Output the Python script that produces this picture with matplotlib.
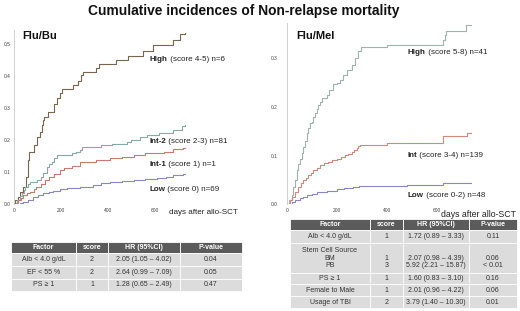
import matplotlib.pyplot as plt
from matplotlib.patches import Rectangle

plt.rcParams["font.family"] = ["Liberation Sans", "DejaVu Sans"]

W, H = 520, 311

# Flu/Bu cumulative incidence (days, value)
bu_high_t = [0, 5, 20, 27, 38, 52, 61, 65, 85, 100, 112, 120, 123, 130, 147, 170, 186, 195, 207,
             251, 275, 285, 293, 350, 361, 434, 488, 552, 594, 676, 708, 730]
bu_high_y = [0, 0.013, 0.024, 0.04, 0.055, 0.086, 0.138, 0.164, 0.185, 0.21, 0.227, 0.247, 0.263,
             0.274, 0.287, 0.315, 0.331, 0.347, 0.36, 0.372, 0.385, 0.404, 0.4125, 0.425, 0.4375,
             0.451, 0.464, 0.48, 0.498, 0.513, 0.531, 0.534]
bu_int2_t = [0, 8, 15, 25, 35, 42, 48, 60, 69, 100, 115, 126, 140, 150, 162, 172, 183, 247, 265,
             282, 289, 370, 420, 480, 500, 538, 566, 620, 679, 715, 730]
bu_int2_y = [0, 0.005, 0.015, 0.025, 0.035, 0.045, 0.055, 0.062, 0.07, 0.075, 0.085, 0.097, 0.117,
             0.125, 0.133, 0.145, 0.154, 0.159, 0.165, 0.17, 0.18, 0.185, 0.19, 0.196, 0.2, 0.211,
             0.217, 0.222, 0.232, 0.245, 0.248]
bu_int1_t = [0, 10, 20, 30, 41, 55, 69, 85, 97, 115, 133, 150, 170, 197, 215, 250, 282, 350, 410,
             460, 510, 560, 640, 679, 720, 730]
bu_int1_y = [0, 0.005, 0.012, 0.02, 0.029, 0.035, 0.04, 0.048, 0.055, 0.065, 0.076, 0.086, 0.095,
             0.107, 0.1125, 0.12, 0.133, 0.138, 0.144, 0.149, 0.154, 0.159, 0.165, 0.172, 0.175, 0.175]
bu_low_t = [0, 25, 41, 60, 84, 105, 126, 150, 169, 195, 225, 280, 339, 370, 410, 460, 510, 560,
            608, 650, 679, 720, 730]
bu_low_y = [0, 0.004, 0.008, 0.015, 0.024, 0.029, 0.034, 0.039, 0.043, 0.047, 0.05, 0.055, 0.06,
            0.066, 0.071, 0.074, 0.076, 0.079, 0.081, 0.086, 0.091, 0.095, 0.095]

# Flu/Mel cumulative incidence
mel_high_t = [0, 10, 20, 27, 33, 40, 47, 53, 60, 67, 73, 80, 87, 93, 100, 107, 113, 120, 127, 133,
              140, 160, 170, 187, 200, 213, 227, 243, 260, 273, 287, 296, 403, 627, 632, 637, 717, 736]
mel_high_y = [0, 0.009, 0.02, 0.036, 0.05, 0.07, 0.082, 0.094, 0.106, 0.118, 0.13, 0.146, 0.156,
              0.166, 0.17, 0.18, 0.187, 0.196, 0.204, 0.21, 0.218, 0.224, 0.235, 0.246, 0.25, 0.255,
              0.265, 0.276, 0.286, 0.3, 0.314, 0.322, 0.327, 0.337, 0.347, 0.356, 0.368, 0.368]
mel_int_t = [0, 12, 20, 33, 47, 57, 67, 77, 87, 97, 107, 120, 133, 150, 167, 183, 200, 217, 233,
             247, 260, 270, 280, 287, 293, 400, 625, 720, 736]
mel_int_y = [0, 0.009, 0.015, 0.026, 0.036, 0.043, 0.05, 0.055, 0.06, 0.065, 0.07, 0.075, 0.081,
             0.084, 0.087, 0.09, 0.094, 0.097, 0.101, 0.104, 0.108, 0.111, 0.115, 0.119, 0.122,
             0.1265, 0.14, 0.146, 0.146]
mel_low_t = [0, 20, 35, 53, 67, 80, 100, 120, 160, 200, 230, 267, 290, 320, 480, 627, 700, 736]
mel_low_y = [0, 0.005, 0.008, 0.012, 0.015, 0.019, 0.022, 0.026, 0.028, 0.031, 0.033, 0.035,
             0.037, 0.038, 0.04, 0.043, 0.044, 0.044]

# tables
bu_header = ["Factor", "score", "HR (95%CI)", "P-value"]
bu_rows = [["Alb < 4.0 g/dL", "2", "2.05 (1.05 – 4.02)", "0.04"],
           ["EF < 55 %", "2", "2.64 (0.99 – 7.09)", "0.05"],
           ["PS ≥ 1", "1", "1.28 (0.65 – 2.49)", "0.47"]]
mel_header = ["Factor", "score", "HR (95%CI)", "P-value"]
mel_rows = [["Alb < 4.0 g/dL", "1", "1.72 (0.89 – 3.33)", "0.11"],
            ["Stem Cell Source\nBM\nPB", "\n1\n3", "\n2.07 (0.98 – 4.39)\n5.92 (2.21 – 15.87)",
             "\n0.06\n< 0.01"],
            ["PS ≥ 1", "1", "1.60 (0.83 – 3.10)", "0.16"],
            ["Female to Male", "1", "2.01 (0.96 – 4.22)", "0.06"],
            ["Usage of TBI", "2", "3.79 (1.40 – 10.30)", "0.01"]]

c_high_bu = "#76664c"
c_high_mel = "#9fb3aa"
c_int2 = "#86aaa5"
c_int1 = "#c47c6e"
c_int = "#cf8a7c"
c_low = "#8787c2"

fig = plt.figure(figsize=(W / 100, H / 100), dpi=100)


def style_axes(ax, yticks, ylabel_pad):
    for s in ["top", "right", "bottom"]:
        ax.spines[s].set_visible(False)
    ax.spines["left"].set_color("#c8c8c8")
    ax.spines["left"].set_linewidth(0.6)
    ax.set_xticks([0, 200, 400, 600])
    ax.set_yticks(yticks)
    ax.tick_params(axis="x", length=0, pad=2.5, labelsize=3.5, labelcolor="#444")
    ax.tick_params(axis="y", length=0, pad=ylabel_pad, labelsize=3.5, labelcolor="#444")
    ax.set_facecolor("none")


def label(ax, x, y, bold, rest, fs=5.8):
    t = ax.text(x, y, bold, fontsize=fs, fontweight="bold", va="center", color="#222")
    ax.annotate(rest, xy=(1, 0), xycoords=t, va="bottom", fontsize=fs, color="#222")


# left panel
ax1 = fig.add_axes([13.7 / W, (H - 204.3) / H, 760 * 0.235 / W, 0.545 * 320 / H])
ax1.step(bu_high_t, bu_high_y, where="post", color=c_high_bu, lw=0.8)
ax1.step(bu_int2_t, bu_int2_y, where="post", color=c_int2, lw=0.8)
ax1.step(bu_int1_t, bu_int1_y, where="post", color=c_int1, lw=0.8)
ax1.step(bu_low_t, bu_low_y, where="post", color=c_low, lw=0.8)
ax1.set_xlim(0, 760)
ax1.set_ylim(0, 0.545)
style_axes(ax1, [0, 0.1, 0.2, 0.3, 0.4, 0.5], 2.5)
ax1.set_yticklabels(["0.0", "0.1", "0.2", "0.3", "0.4", "0.5"])
label(ax1, 580, 0.451, "High", " (score 4-5) n=6")
label(ax1, 576, 0.196, "Int-2", " (score 2-3) n=81")
label(ax1, 576, 0.123, "Int-1", " (score 1) n=1")
label(ax1, 576, 0.047, "Low", " (score 0) n=69")

# right panel
ax2 = fig.add_axes([286.7 / W, (H - 204.3) / H, 190 / W, 0.372 * 487 / H])
ax2.step(mel_high_t, mel_high_y, where="post", color=c_high_mel, lw=0.8)
ax2.step(mel_int_t, mel_int_y, where="post", color=c_int, lw=0.8)
ax2.step(mel_low_t, mel_low_y, where="post", color=c_low, lw=0.8)
ax2.set_xlim(0, 760)
ax2.set_ylim(0, 0.372)
style_axes(ax2, [0, 0.1, 0.2, 0.3], 6.5)
ax2.set_yticklabels(["0.0", "0.1", "0.2", "0.3"])
label(ax2, 484, 0.312, "High", " (score 5-8) n=41")
label(ax2, 484, 0.101, "Int", " (score 3-4) n=139")
label(ax2, 484, 0.019, "Low", " (score 0-2) n=48")

# overlay in pixel coordinates for titles and tables
ov = fig.add_axes([0, 0, 1, 1])
ov.set_xlim(0, W)
ov.set_ylim(H, 0)
ov.axis("off")
ov.set_zorder(-1)

ov.text(244, 10.5, "Cumulative incidences of Non-relapse mortality", fontsize=9.9,
        fontweight="bold", ha="center", va="center", color="#111")
ov.text(22, 36, "Flu/Bu", fontsize=8, fontweight="bold", va="center", color="#111")
ov.text(296, 36, "Flu/Mel", fontsize=8, fontweight="bold", va="center", color="#111")
ov.text(169, 213, "days after allo-SCT", fontsize=5.8, va="center", color="#222")
ov.text(441, 214.5, "days after allo-SCT", fontsize=6.3, va="center", color="#222")


def draw_table(col_edges, row_edges, header, rows):
    cells = [header] + rows
    for r in range(len(cells)):
        y0, y1 = row_edges[r], row_edges[r + 1]
        for c in range(len(col_edges) - 1):
            x0, x1 = col_edges[c], col_edges[c + 1]
            fc = "#5b5b5b" if r == 0 else "#dcdcdc"
            ov.add_patch(Rectangle((x0, y0), x1 - x0, y1 - y0, facecolor=fc,
                                   edgecolor="white", lw=0.6))
            ov.text((x0 + x1) / 2, (y0 + y1) / 2, cells[r][c], ha="center", va="center",
                    fontsize=5.0, linespacing=1.1,
                    color="white" if r == 0 else "#333",
                    fontweight="bold" if r == 0 else "normal")


draw_table([11, 76, 108, 180, 242], [242, 253, 266, 279, 291], bu_header, bu_rows)
draw_table([290, 370, 403, 469, 517], [219, 230, 243, 273, 284, 296, 308], mel_header, mel_rows)

fig.savefig("out.png", dpi=100)
